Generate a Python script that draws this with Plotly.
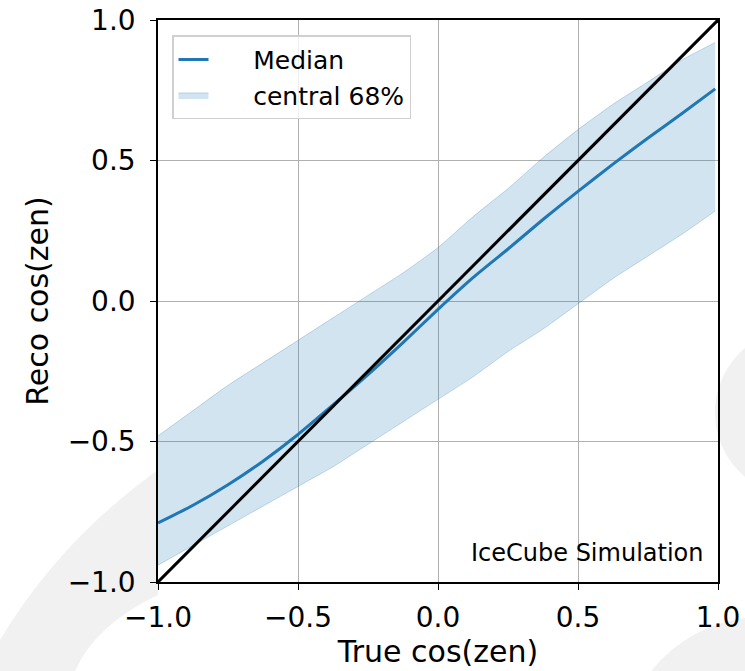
import plotly.graph_objects as go

true_cos = [-1.0, -0.875, -0.75, -0.625, -0.5, -0.375, -0.25, -0.125, 0.0,
            0.125, 0.25, 0.375, 0.5, 0.625, 0.75, 0.875, 0.99]
median = [-0.79, -0.727, -0.654, -0.57, -0.475, -0.37, -0.262, -0.148, -0.03,
          0.083, 0.185, 0.29, 0.39, 0.487, 0.58, 0.67, 0.755]
upper = [-0.48, -0.39, -0.30, -0.22, -0.14, -0.06, 0.02, 0.10, 0.19,
         0.30, 0.40, 0.51, 0.61, 0.70, 0.78, 0.86, 0.92]
lower = [-0.94, -0.87, -0.80, -0.73, -0.66, -0.59, -0.51, -0.43, -0.35,
         -0.27, -0.18, -0.10, -0.01, 0.08, 0.16, 0.24, 0.32]
diag = [-1.0, 1.0]
ticks = [-1.0, -0.5, 0.0, 0.5, 1.0]
tick_text = ["\u22121.0", "\u22120.5", "0.0", "0.5", "1.0"]

blue = "#1f77b4"
pad = "\u00a0\u00a0\u00a0\u00a0\u00a0"
fig = go.Figure()
fig.add_trace(go.Scatter(x=true_cos, y=lower, mode="lines",
                         line=dict(color="rgba(31,119,180,0.25)", width=1, shape="spline", smoothing=0.5),
                         showlegend=False, hoverinfo="skip"))
fig.add_trace(go.Scatter(x=true_cos, y=upper, mode="lines", fill="tonexty",
                         fillcolor="rgba(31,119,180,0.2)",
                         line=dict(color="rgba(31,119,180,0.25)", width=1, shape="spline", smoothing=0.5),
                         name=pad + "central 68%", legendrank=2))
fig.add_trace(go.Scatter(x=true_cos, y=median, mode="lines",
                         line=dict(color=blue, width=3, shape="spline", smoothing=0.6),
                         name=pad + "Median", legendrank=1))
fig.add_trace(go.Scatter(x=diag, y=diag, mode="lines",
                         line=dict(color="black", width=3),
                         showlegend=False))

axis_common = dict(range=[-1, 1], tickvals=ticks, ticktext=tick_text,
                   showgrid=True, gridcolor="#b0b0b0", gridwidth=1,
                   zeroline=False, showline=True, linecolor="black", linewidth=1.5,
                   mirror=True, ticks="outside", ticklen=6, tickwidth=1.2,
                   tickcolor="black", automargin=False,
                   tickfont=dict(family="DejaVu Sans", size=28, color="black"))

fig.update_xaxes(**axis_common, ticklabelstandoff=4,
                 title=dict(text="True cos(zen)", standoff=4,
                            font=dict(family="DejaVu Sans", size=30, color="black")))
fig.update_yaxes(**axis_common, ticklabelstandoff=9,
                 title=dict(text="Reco cos(zen)", standoff=10,
                            font=dict(family="DejaVu Sans", size=30, color="black")))

fig.add_annotation(text="IceCube Simulation", xref="x", yref="y", x=0.955, y=-0.897,
                   xanchor="right", yanchor="middle", showarrow=False,
                   font=dict(family="DejaVu Sans", size=24, color="black"))

# faint watermark shapes of the slide background (paper coordinates)
def px(xp, yp):
    return (xp - 158) / 560.0, (582 - yp) / 562.0

def path(points):
    parts = []
    for cmd, pts in points:
        coords = " ".join("%.4f,%.4f" % px(a, b) for a, b in pts)
        parts.append(cmd + " " + coords)
    return " ".join(parts) + " Z"

wm = "#f1f1f1"
shapes = [
    dict(type="path", xref="paper", yref="paper", layer="below",
         path=path([("M", [(0, 640)]), ("Q", [(60, 540), (158, 470)]),
                    ("L", [(158, 595)]), ("Q", [(95, 625), (75, 671)]),
                    ("L", [(0, 671)])]),
         fillcolor=wm, line=dict(width=0)),
    dict(type="circle", xref="paper", yref="paper", layer="below",
         x0=px(715, 0)[0], x1=px(875, 0)[0], y0=px(0, 330)[1], y1=px(0, 495)[1],
         fillcolor=wm, line=dict(width=0)),
    dict(type="circle", xref="paper", yref="paper", layer="below",
         x0=px(620, 0)[0], x1=px(905, 0)[0], y0=px(0, 617)[1], y1=px(0, 905)[1],
         fillcolor=wm, line=dict(width=0)),
]

fig.update_layout(
    width=745, height=671,
    margin=dict(l=158, r=27, t=20, b=89, autoexpand=False),
    paper_bgcolor="white", plot_bgcolor="white",
    shapes=shapes,
    legend=dict(x=0.025, y=0.973, xanchor="left", yanchor="top",
                traceorder="normal",
                bgcolor="rgba(255,255,255,0.8)", bordercolor="#d0d0d0", borderwidth=1.5,
                font=dict(family="DejaVu Sans", size=25, color="black"),
                tracegroupgap=4),
    showlegend=True,
)

fig.write_html("out.html")
